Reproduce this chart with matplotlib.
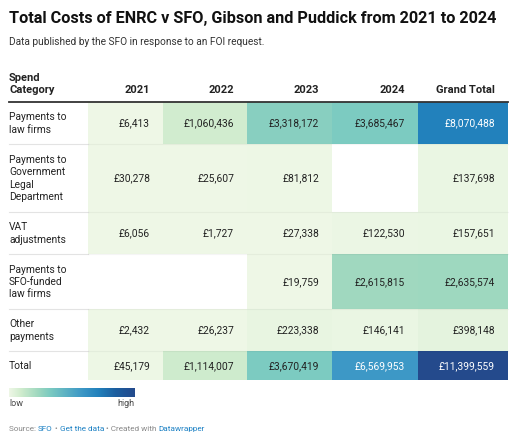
import numpy as np
import matplotlib
matplotlib.use('Agg')
import matplotlib.pyplot as plt
from matplotlib.colors import LinearSegmentedColormap, Normalize

plt.rcParams['font.family'] = ['Roboto', 'DejaVu Sans']

# data
categories = ['Payments to\nlaw firms', 'Payments to\nGovernment\nLegal\nDepartment',
              'VAT\nadjustments', 'Payments to\nSFO-funded\nlaw firms', 'Other\npayments', 'Total']
columns = ['2021', '2022', '2023', '2024', 'Grand Total']
y2021 = [6413, 30278, 6056, np.nan, 2432, 45179]
y2022 = [1060436, 25607, 1727, np.nan, 26237, 1114007]
y2023 = [3318172, 81812, 27338, 19759, 223338, 3670419]
y2024 = [3685467, np.nan, 122530, 2615815, 146141, 6569953]
grand = [8070488, 137698, 157651, 2635574, 398148, 11399559]

vals = np.array([y2021, y2022, y2023, y2024, grand]).T

# layout (pixels)
W, H = 527, 446
col_edges = [88, 163, 247, 332, 418, 508]
row_edges = [102, 144, 212, 254, 309, 351, 380]

cmap = LinearSegmentedColormap.from_list('dw', [
    (0.0, '#eef7e6'), (0.093, '#d0ecce'), (0.229, '#9fd8bf'), (0.29, '#88cfc0'),
    (0.322, '#7ccbc1'), (0.576, '#3d98c6'), (0.708, '#2281bc'), (0.85, '#1c5e9f'),
    (1.0, '#244a8c')])
cmap.set_bad('white')
norm = Normalize(0, np.nanmax(vals))

fig = plt.figure(figsize=(W / 100, H / 100), dpi=100)
ax = fig.add_axes([0, 0, 1, 1])
ax.set_xlim(0, W)
ax.set_ylim(H, 0)
ax.axis('off')

ax.pcolormesh(col_edges, row_edges, np.ma.masked_invalid(vals), cmap=cmap, norm=norm)

# title + subtitle
ax.text(9, 23, 'Total Costs of ENRC v SFO, Gibson and Puddick from 2021 to 2024',
        fontsize=11.7, fontweight='bold', color='#111111', va='baseline')
ax.text(9, 45, 'Data published by the SFO in response to an FOI request.',
        fontsize=7.3, color='#333333', va='baseline')

# header
ax.text(9, 93, 'Spend\nCategory', fontsize=8, fontweight='bold', color='#222222',
        va='baseline', linespacing=1.25)
for j, c in enumerate(columns):
    ax.text(col_edges[j + 1] - 13, 93, c, fontsize=8, fontweight='bold', color='#222222',
            ha='right', va='baseline')
ax.plot([9, 508], [102, 102], color='#333333', lw=1.3)

# rows
for i, cat in enumerate(categories):
    yc = (row_edges[i] + row_edges[i + 1]) / 2
    ax.text(9, yc + 0.5, cat, fontsize=7.4, color='#222222', va='center', linespacing=1.27)
    if i > 0:
        ax.plot([9, 88], [row_edges[i]] * 2, color='#e3e3e3', lw=0.8)
        ax.plot([88, 508], [row_edges[i]] * 2, color='black', alpha=0.04, lw=0.8)
    for j in range(len(columns)):
        v = vals[i, j]
        if np.isnan(v):
            continue
        tc = 'white' if norm(v) > 0.5 else '#222222'
        ax.text(col_edges[j + 1] - 13, yc + 0.5, f'£{v:,.0f}', fontsize=7.4, color=tc,
                ha='right', va='center')

# legend
grad = np.linspace(0, 1, 256).reshape(1, -1)
ax.imshow(grad, cmap=cmap, extent=[9, 135, 397, 388], aspect='auto')
ax.text(9, 404, 'low', fontsize=6.5, color='#444444', va='center')
ax.text(135, 404, 'high', fontsize=6.5, color='#444444', va='center', ha='right')

# source line, pieces placed by measuring the prefix width
parts = [('Source: ', '#888888'), ('SFO', '#1d81c4'), (' • ', '#888888'),
         ('Get the data', '#1d81c4'), (' • Created with ', '#888888'), ('Datawrapper', '#1d81c4')]
renderer = fig.canvas.get_renderer()
src_fs = 5.9


def text_width(s):
    t = ax.text(0, 0, s + '|', fontsize=src_fs)
    w = t.get_window_extent(renderer).width
    t.remove()
    t = ax.text(0, 0, '|', fontsize=src_fs)
    w -= t.get_window_extent(renderer).width
    t.remove()
    return w


prefix = ''
for txt, col in parts:
    ax.text(9 + text_width(prefix), 431, txt, fontsize=src_fs, color=col, va='baseline')
    prefix += txt

fig.savefig('out.png', dpi=100)
